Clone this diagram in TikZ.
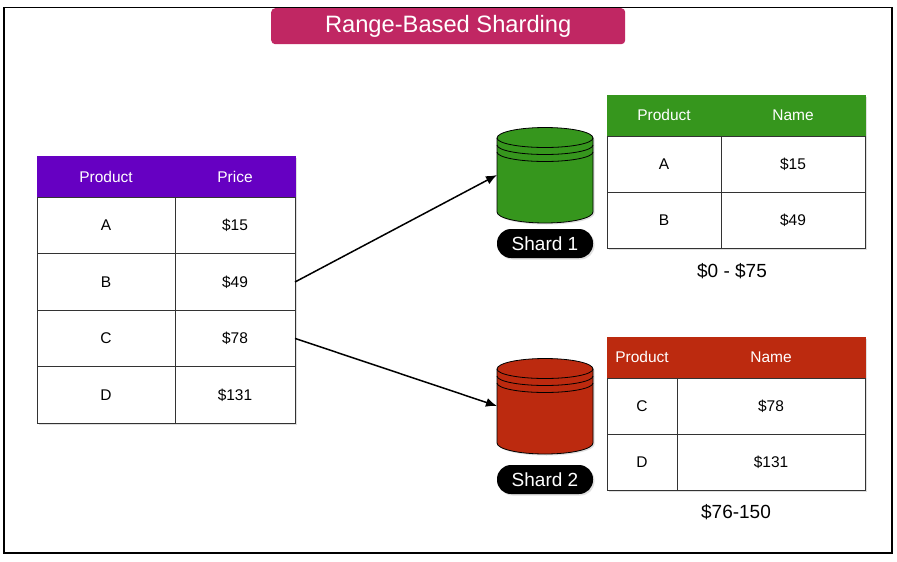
\documentclass[tikz,border=0pt]{standalone}
\usepackage{fontspec}
\setmainfont{Liberation Sans}
\usetikzlibrary{positioning,arrows.meta,shadows}
\definecolor{titlepink}{HTML}{C02763}
\definecolor{violethead}{HTML}{6600C2}
\definecolor{shardgreen}{HTML}{36961D}
\definecolor{shardred}{HTML}{BC2A0F}
\begin{document}
\begin{tikzpicture}[
  x=1pt, y=-1pt,
  softshadow/.style={drop shadow={opacity=.25, shadow xshift=1.5pt, shadow yshift=-1.5pt}},
  head/.style={fill=#1, draw=#1, text=white, inner sep=0pt, outer sep=0pt,
               text height=12.5pt, text depth=2pt,
               minimum height=41pt, font=\fontsize{15.5}{18}\selectfont, softshadow},
  cell/.style={draw=black!80, line width=.8pt, fill=white, inner sep=0pt, outer sep=0pt,
               text height=12.5pt, text depth=2pt,
               minimum height=56.4pt, font=\fontsize{15.5}{18}\selectfont, softshadow},
  shard/.style={minimum width=96pt, minimum height=96pt, inner sep=0pt, outer sep=0pt},
  band/.style={line width=.8pt},
  pill/.style={fill=black, text=white, rounded corners=14pt, minimum width=96pt,
               minimum height=29pt, inner sep=0pt, font=\fontsize{19}{22}\selectfont, softshadow},
  pricerange/.style={font=\fontsize{19}{22}\selectfont},
  arr/.style={-{Latex[length=11pt,width=9pt]}, line width=1.5pt},
]
\useasboundingbox (0,0) rectangle (897,562);
% ---- frame and title -------------------------------------------------
\node[draw=black, line width=1.8pt, minimum width=888pt, minimum height=545.5pt,
      anchor=north west, inner sep=0pt, outer sep=0pt] (frame) at (4,7.5) {};
\node[fill=titlepink, rounded corners=4pt, text=white, minimum width=354pt, minimum height=36pt,
      anchor=north west, inner sep=0pt, font=\fontsize{23.7}{27}\selectfont] (title) at (271,8)
      {Range-Based Sharding};
% ---- left table ------------------------------------------------------
\node[head=violethead, minimum width=138pt, anchor=north west] (hProd) at (37,156.4) {Product};
\node[head=violethead, minimum width=120pt, right=0pt of hProd] (hPrice) {Price};
\node[cell, minimum width=138pt, below=0pt of hProd] (a1) {A};
\node[cell, minimum width=138pt, below=0pt of a1] (b1) {B};
\node[cell, minimum width=138pt, below=0pt of b1] (c1) {C};
\node[cell, minimum width=138pt, below=0pt of c1] (d1) {D};
\node[cell, minimum width=120pt, right=0pt of a1] (a2) {\$15};
\node[cell, minimum width=120pt, right=0pt of b1] (b2) {\$49};
\node[cell, minimum width=120pt, right=0pt of c1] (c2) {\$78};
\node[cell, minimum width=120pt, right=0pt of d1] (d2) {\$131};
% ---- shard 1 ---------------------------------------------------------
\node[shard] (shardA) at (545,175) {};
\node[pill] (pillA) at (545,243.5) {Shard 1};
\node[head=shardgreen, minimum width=114pt, anchor=north west] (hProdA) at (607,95) {Product};
\node[head=shardgreen, minimum width=144pt, right=0pt of hProdA] (hNameA) {Name};
\node[cell, minimum width=114pt, below=0pt of hProdA] (a3) {A};
\node[cell, minimum width=114pt, below=0pt of a3] (b3) {B};
\node[cell, minimum width=144pt, right=0pt of a3] (a4) {\$15};
\node[cell, minimum width=144pt, right=0pt of b3] (b4) {\$49};
\node[pricerange] (rangeA) at (732,271) {\$0 - \$75};
% ---- shard 2 ---------------------------------------------------------
\node[shard] (shardB) at (545,406) {};
\node[pill] (pillB) at (545,479.5) {Shard 2};
\node[head=shardred, minimum width=70pt, anchor=north west] (hProdB) at (607,337) {Product};
\node[head=shardred, minimum width=188pt, right=0pt of hProdB] (hNameB) {Name};
\node[cell, minimum width=70pt, below=0pt of hProdB] (c3) {C};
\node[cell, minimum width=70pt, below=0pt of c3] (d3) {D};
\node[cell, minimum width=188pt, right=0pt of c3] (c4) {\$78};
\node[cell, minimum width=188pt, right=0pt of d3] (d4) {\$131};
\node[pricerange] (rangeB) at (736,512) {\$76-150};
% ---- cylinders drawn over the shard nodes ----------------------------
\foreach \s/\c in {shardA/shardgreen,shardB/shardred} {
  \draw[band, fill=\c, softshadow] ([yshift=37pt]\s.west)
    arc[start angle=180, end angle=0, x radius=48pt, y radius=10.5pt]
    -- ([yshift=-37pt]\s.east)
    arc[start angle=0, end angle=-180, x radius=48pt, y radius=11pt] -- cycle;
  \foreach \d in {37,30,23}
    \draw[band] ([yshift=\d pt]\s.west) arc[start angle=180, end angle=360,
      x radius=48pt, y radius=9.5pt];
}
% ---- edges -----------------------------------------------------------
\draw[arr] (b2.east) -- (shardA.west);
\draw[arr] (c2.east) -- (shardB.west);
\end{tikzpicture}
\end{document}
